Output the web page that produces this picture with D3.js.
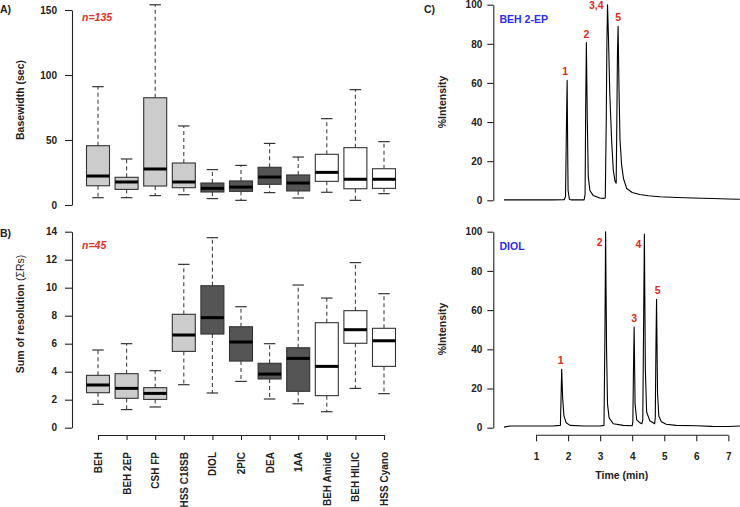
<!DOCTYPE html>
<html><head><meta charset="utf-8">
<script src="https://cdn.jsdelivr.net/npm/d3@7"></script>
<style>
body{margin:0;background:#fff;}
text{font-family:"Liberation Sans",Arial,Helvetica,sans-serif;}
</style></head>
<body><svg id="c" width="740" height="507"></svg>
<script>
// ---------- DATA ----------
const categories = ["BEH","BEH 2EP","CSH FP","HSS C18SB","DIOL","2PIC","DEA","1AA","BEH Amide","BEH HILIC","HSS Cyano"];
const boxGroup   = [0,0,0,0,1,1,1,1,2,2,2];

// Panel A: basewidth (sec), n=135
const bwMin = [5.6, 5.6, 7.2, 7.9, 4.9, 3.6, 9.5, 5.4, 9.8, 3.6, 8.7];
const bwQ1  = [14.8,12.0,14.6,13.3,10.0,10.5,15.9,10.8,18.2,12.5,12.8];
const bwMed = [22.3,17.7,27.7,17.7,12.8,13.8,21.5,16.9,25.1,19.8,19.8];
const bwQ3  = [45.6,21.3,82.5,32.3,16.9,18.5,29.0,23.1,39.0,44.1,27.9];
const bwMax = [91.0,35.4,154, 60.8,27.2,30.5,47.4,36.9,66.4,88.7,48.7];
const bwTicks = [0,50,100,150];

// Panel B: sum of resolution, n=45
const rsMin = [1.67,1.29,1.48,3.07,2.48,3.31,2.05,1.71,1.14,2.81,2.43];
const rsQ1  = [2.50,2.10,2.02,5.45,6.69,4.76,3.48,2.60,2.29,6.03,4.38];
const rsMed = [3.05,2.81,2.45,6.62,7.86,6.12,3.83,4.95,4.38,7.00,6.21];
const rsQ3  = [3.74,3.86,2.86,8.10,10.14,7.21,4.60,5.71,7.50,8.36,7.10];
const rsMax = [5.55,6.00,4.07,11.67,13.57,8.64,6.00,10.19,9.26,11.79,9.57];
const rsTicks = [0,2,4,6,8,10,12,14];

// Panel C: chromatograms (time min, %intensity)
const behTime = [0,0.5,1.0,1.5,1.88,1.92,1.95,1.97,1.99,2.0,2.04,2.1,2.5,2.53,2.55,2.57,2.6,2.63,2.68,2.78,2.99,3.1,3.16,3.19,3.21,3.23,3.26,3.3,3.36,3.41,3.46,3.5,3.52,3.54,3.56,3.59,3.62,3.67,3.73,3.83,4.0,4.24,4.5,4.87,5.4,5.9,6.5,7.0,7.36];
const behInt  = [0.2,0.2,0.2,0.2,0.3,2,40,61.3,20,5,0.5,0.2,0.2,3,50,80.6,40,12,5,2.5,1.2,1.0,1.2,40,80,100,83,55,30,15.5,10,8.7,40,75,89,55,30.8,18,11,6,4,3,2.3,1.8,1.4,1.2,0.9,0.7,0.5];
const diolTime = [0,0.2,0.5,1.0,1.5,1.76,1.78,1.8,1.83,1.87,1.94,2.06,2.5,3.0,3.12,3.15,3.17,3.2,3.23,3.28,3.41,3.72,4.0,4.02,4.04,4.06,4.09,4.14,4.24,4.3,4.33,4.36,4.38,4.41,4.45,4.55,4.7,4.72,4.74,4.76,4.79,4.83,4.91,5.06,5.37,6.0,6.5,7.0,7.36];
const diolInt  = [0.3,0.9,0.9,0.9,0.9,1.2,15,29.8,15,6,2.5,1.2,0.9,0.9,1.2,50,100,40,12,5,2,1.2,1.0,3,30,51.4,12,4,2.5,2,4,60,98.8,30,8,3.5,2,5,40,65.5,18,6,3,1.8,1.2,1.0,0.7,0.6,0.9];
const intTicks = [0,20,40,60,80,100];
const timeTicks = [1,2,3,4,5,6,7];
const behPeaks  = [{lab:"1",t:1.97,v:61.3},{lab:"2",t:2.57,v:80.6},{lab:"3,4",t:3.23,v:100},{lab:"5",t:3.56,v:89}];
const diolPeaks = [{lab:"1",t:1.8,v:29.8},{lab:"2",t:3.17,v:100},{lab:"3",t:4.06,v:51.4},{lab:"4",t:4.38,v:98.8},{lab:"5",t:4.76,v:65.5}];

// ---------- DRAW ----------
const svg = d3.select("#c");
const FS = "10px";
const ink = "#222";

const x = d3.scalePoint().domain(categories).range([98, 384]);
const boxW = 23;
const fill = d3.scaleOrdinal().domain([0,1,2]).range(["#cccccc","#555555","#ffffff"]);

function yAxisStyle(g){
  g.selectAll("path,line").attr("stroke",ink).attr("stroke-width",1.1);
  g.selectAll("text").attr("font-size",FS).attr("font-weight","bold").attr("fill",ink);
}

function boxPanel(y, mins, q1, med, q3, maxs, ticks){
  const g = svg.append("g");
  g.append("g").attr("transform","translate(72,0)")
    .call(d3.axisLeft(y).tickValues(ticks).tickSize(7).tickPadding(8).tickSizeOuter(0))
    .call(yAxisStyle);
  categories.forEach((c,i)=>{
    const cx = x(c);
    const w = g.append("g");
    w.append("line").attr("x1",cx).attr("x2",cx).attr("y1",y(q3[i])).attr("y2",y(maxs[i]))
      .attr("stroke","#444").attr("stroke-dasharray","4,3").attr("stroke-width",1.1);
    w.append("line").attr("x1",cx).attr("x2",cx).attr("y1",y(q1[i])).attr("y2",y(mins[i]))
      .attr("stroke","#444").attr("stroke-dasharray","4,3").attr("stroke-width",1.1);
    [mins[i],maxs[i]].forEach(v=>{
      w.append("line").attr("x1",cx-boxW/4).attr("x2",cx+boxW/4).attr("y1",y(v)).attr("y2",y(v))
        .attr("stroke","#222").attr("stroke-width",1.1);
    });
    w.append("rect").attr("x",cx-boxW/2).attr("width",boxW)
      .attr("y",y(q3[i])).attr("height",y(q1[i])-y(q3[i]))
      .attr("fill",fill(boxGroup[i])).attr("stroke","#333").attr("stroke-width",1.1);
    w.append("line").attr("x1",cx-boxW/2).attr("x2",cx+boxW/2).attr("y1",y(med[i])).attr("y2",y(med[i]))
      .attr("stroke","#000").attr("stroke-width",3);
  });
  return g;
}

const yA = d3.scaleLinear().domain([0,150]).range([205,10]);
boxPanel(yA, bwMin,bwQ1,bwMed,bwQ3,bwMax,bwTicks);
const yB = d3.scaleLinear().domain([0,14]).range([427.7,231.7]);
boxPanel(yB, rsMin,rsQ1,rsMed,rsQ3,rsMax,rsTicks);

// category axis
const xa = svg.append("g").attr("transform","translate(0,435)")
  .call(d3.axisBottom(x).tickSize(5).tickSizeOuter(0));
xa.selectAll("path,line").attr("stroke",ink).attr("stroke-width",1.1);
xa.selectAll("text").attr("font-size",FS).attr("font-weight","bold").attr("fill",ink)
  .attr("text-anchor","end").attr("y",0).attr("dy","0.35em")
  .attr("transform","translate(0,17) rotate(-90)");

function txt(t,xx,yy,opts={}){
  const e = svg.append("text").attr("x",xx).attr("y",yy).text(t)
    .attr("font-size",opts.size||"10.5px").attr("font-weight",opts.weight||"bold")
    .attr("fill",opts.fill||ink).attr("text-anchor",opts.anchor||"start")
    .attr("dominant-baseline","central");
  if(opts.italic) e.attr("font-style","italic");
  if(opts.rot) e.attr("transform",`rotate(-90,${xx},${yy})`);
  return e;
}
txt("A)",0,9);
txt("B)",0,233);
txt("C)",424,9);
txt("n=135",82,17,{fill:"#e0302a",italic:true});
txt("n=45",82,245,{fill:"#e0302a",italic:true});
txt("Basewidth (sec)",20,100,{anchor:"middle",rot:true});
const sr = svg.append("text").attr("x",20).attr("y",314).attr("text-anchor","middle")
  .attr("dominant-baseline","central").attr("font-size","10.5px").attr("fill",ink)
  .attr("transform","rotate(-90,20,314)");
sr.append("tspan").attr("font-weight","bold").text("Sum of resolution ");
sr.append("tspan").attr("font-weight","normal").text("(ΣRs)");

// chromatograms
const xt = d3.scaleLinear().domain([0,7]).range([504,728.35]);
function chromPanel(y, times, ints, name, titleY){
  svg.append("g").attr("transform","translate(493.3,0)")
    .call(d3.axisLeft(y).tickValues(intTicks).tickSize(6).tickPadding(5).tickSizeOuter(0))
    .call(yAxisStyle);
  const pts = times.map((t,i)=>[t,ints[i]]);
  svg.append("path").datum(pts)
    .attr("d",d3.line().x(d=>xt(d[0])).y(d=>y(d[1])))
    .attr("fill","none").attr("stroke","#000").attr("stroke-width",1.1).attr("stroke-linejoin","round");
  txt(name,499.5,y(100)+14,{fill:"#2b2bf5"});
  txt("%Intensity",442,titleY,{anchor:"middle",rot:true});
}
const yC1 = d3.scaleLinear().domain([0,100]).range([200.3,4.7]);
chromPanel(yC1, behTime, behInt, "BEH 2-EP", 102);
const yC2 = d3.scaleLinear().domain([0,100]).range([427.7,231.7]);
chromPanel(yC2, diolTime, diolInt, "DIOL", 329);

// peak labels: [dx, dy, anchor]
const red = "#dd2a22";
const behOff  = [[-2,-9,"middle"],[0,-9,"middle"],[-4,0,"end"],[0,-9,"middle"]];
const diolOff = [[-1,-9,"middle"],[-6,10,"middle"],[0,-9,"middle"],[-6,10,"middle"],[1,-9,"middle"]];
[[behPeaks,yC1,behOff],[diolPeaks,yC2,diolOff]].forEach(([pk,y,off])=>{
  pk.forEach((p,i)=>{
    const o = off[i];
    txt(p.lab, xt(p.t)+o[0], y(p.v)+o[1], {fill:red, anchor:o[2]});
  });
});

// time axis
const ta = svg.append("g").attr("transform","translate(0,435.3)")
  .call(d3.axisBottom(xt).tickValues(timeTicks).tickSize(6).tickPadding(12).tickFormat(d3.format("d")));
ta.select(".domain").remove();
ta.append("line").attr("x1",xt(1)).attr("x2",xt(7)).attr("y1",0).attr("y2",0);
ta.selectAll("path,line").attr("stroke",ink).attr("stroke-width",1.1);
ta.selectAll("text").attr("font-size",FS).attr("font-weight","bold").attr("fill",ink);
txt("Time (min)",621.7,475,{anchor:"middle"});
</script>
</body></html>
